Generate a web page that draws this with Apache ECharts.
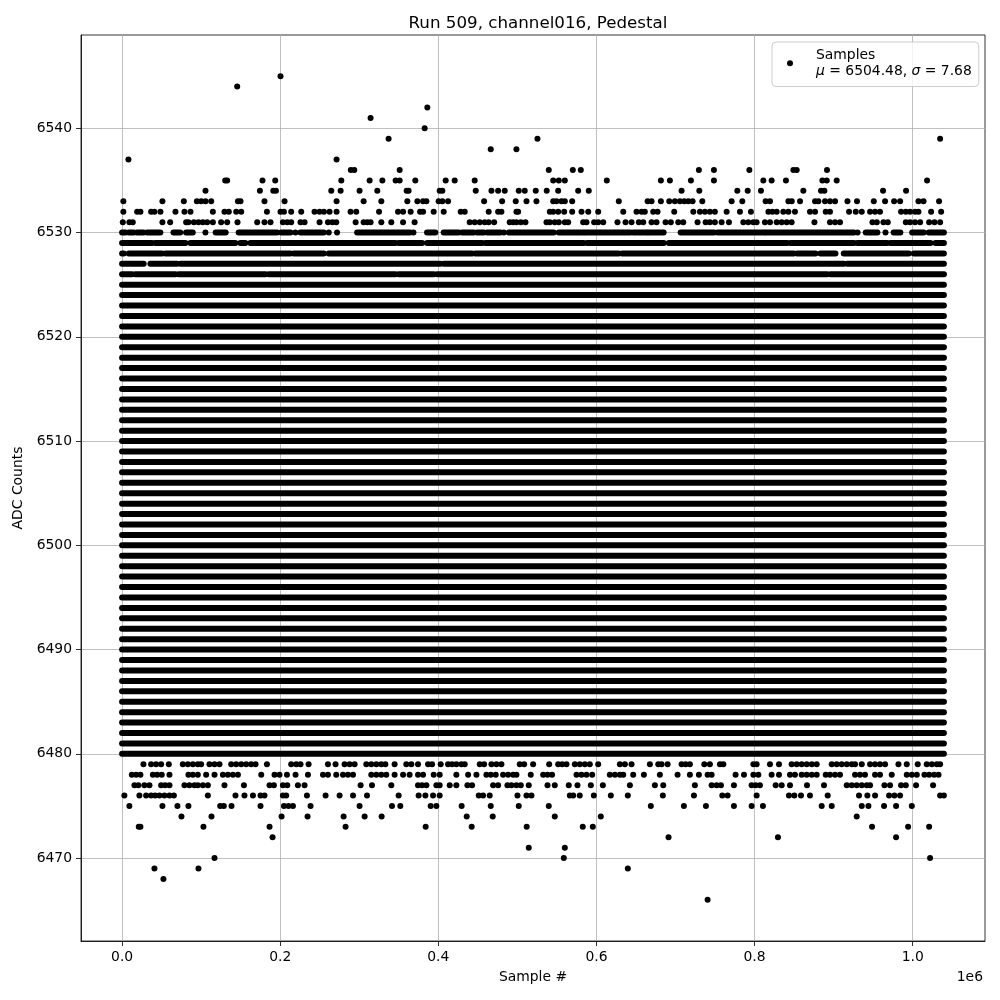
<!DOCTYPE html>
<html><head><meta charset="utf-8">
<script src="https://cdn.jsdelivr.net/npm/echarts@6/dist/echarts.min.js"></script>
<style>html,body{margin:0;padding:0;background:#fff}#c{width:1000px;height:1000px}</style>
</head><body><div id="c"></div>
<script>
// ---- axis ticks ----
const xTicks = [0, 200000, 400000, 600000, 800000, 1000000];
const yTicks = [6470, 6480, 6490, 6500, 6510, 6520, 6530, 6540];
const xDataMax = 1039500;

// ---- levels that are filled across the full sample range ----
const solidLevels = [6480,6481,6482,6483,6484,6485,6486,6487,6488,6489,6490,6491,6492,6493,6494,6495,6496,6497,6498,6499,6500,6501,6502,6503,6504,6505,6506,6507,6508,6509,6510,6511,6512,6513,6514,6515,6516,6517,6518,6519,6520,6521,6522,6523,6524,6525];

// ---- near-dense levels as runs of samples [start, end] ----
const runs6526 = [[0,12600],[16800,67400],[71600,181300],[185500,345700],[349900,394200],[398500,891800],[896000,1039500]];
const runs6527 = [[0,27300],[35800,69600],[73800,402600],[406800,912800],[917100,1039500]];
const runs6528 = [[0,2000],[8400,50600],[54800,212900],[217100,255100],[261400,442800],[446900,628200],[632500,849600],[853900,877000],[883300,902300],[912800,995000],[1001400,1039500]];
const runs6529 = [[0,38000],[42100,80100],[86400,143300],[149600,155900],[162300,345700],[349900,379500],[385800,455400],[459600,583900],[588200,685100],[691500,841200],[845400,925500],[929800,967700],[971900,1022500],[1028800,1039500]];
const runs6530 = [[0,4200],[8400,14700],[18800,27200],[31600,48400],[65000,73500],[80900,89400],[105400,105400],[118400,131000],[147500,196000],[201100,213000],[219300,219300],[225600,255100],[261400,261400],[271900,271900],[297300,364300],[368500,368500],[385700,396200],[406800,425800],[430100,444800],[449000,457500],[461700,478600],[482800,482800],[489100,546000],[552300,583900],[586000,643000],[646300,664000],[666000,685000],[706500,748700],[753000,812000],[814000,875100],[877600,925800],[930300,930300],[940600,955400],[965600,965600],[975900,984400],[999300,1014000],[1020300,1039500]];

// ---- sparse levels: sample positions of individual points ----
const p6545 = [200400];
const p6544 = [145600];
const p6542 = [386100];
const p6541 = [314300];
const p6540 = [382700];
const p6539 = [337100, 525400, 1034700];
const p6538 = [466300, 498800];
const p6537 = [8000, 271300];
const p6536 = [289300, 293700, 351100, 539700, 570100, 580200, 729600, 748600, 793400, 849100, 853300, 891600];
const p6535 = [130400, 132900, 177600, 193700, 277300, 313100, 329200, 346000, 351100, 370900, 409300, 420700, 446000, 545300, 552400, 560000, 613100, 681500, 692900, 719500, 748600, 811100, 821600, 839700, 885800, 891300, 903900, 1018200];
const p6534 = [105500, 174300, 191200, 194600, 264600, 276400, 300400, 322800, 359900, 362400, 401700, 405100, 447300, 467200, 475600, 484000, 501700, 509300, 523200, 537100, 551600, 576900, 590300, 707700, 730100, 778200, 791300, 808100, 861700, 884000, 888300, 962500, 991600];
const p6533 = [1600, 51000, 78100, 94600, 100000, 105500, 112700, 146500, 149800, 180100, 205500, 271300, 305500, 327900, 360800, 373500, 380700, 384900, 400400, 405100, 412300, 457900, 480700, 497900, 511500, 524100, 545300, 549400, 555700, 560000, 569300, 628300, 664700, 669700, 681500, 692100, 699200, 705500, 711100, 716200, 721600, 733900, 771000, 784500, 814000, 819500, 842800, 847000, 857500, 876500, 880700, 889100, 895400, 901800, 917500, 929600, 950800, 965100, 976500, 984100, 1007300, 1013700, 1033400];
const p6532 = [1600, 19000, 23200, 36700, 40900, 48500, 67500, 78900, 86500, 114800, 129500, 135000, 144300, 150700, 183200, 200400, 204700, 213900, 226600, 243400, 249800, 255300, 262400, 271300, 289000, 296200, 325000, 349000, 355400, 365000, 376900, 380700, 394100, 406800, 428300, 433400, 463700, 475600, 479800, 498800, 500900, 541000, 545300, 551600, 559200, 569300, 581100, 589600, 602200, 633900, 650700, 657100, 661200, 671800, 677300, 698400, 722500, 730900, 737200, 743500, 749800, 764700, 781500, 795400, 817500, 822500, 828000, 836400, 842800, 851100, 870100, 876500, 890000, 895400, 919500, 928000, 935600, 946100, 952400, 958700, 985300, 991300, 996700, 1003000, 1007300, 1023300, 1036000];
const p6531 = [900, 9200, 13500, 51000, 60800, 81000, 83900, 90800, 96600, 102200, 107600, 114800, 125300, 132900, 146000, 170900, 180100, 187700, 203400, 208900, 213900, 225700, 230800, 249800, 260400, 265900, 270900, 295400, 305500, 310200, 314300, 327900, 340500, 355400, 370000, 439700, 446000, 452400, 458700, 463700, 470600, 490300, 494600, 498800, 504300, 510200, 536800, 541000, 547300, 552400, 560000, 564200, 583200, 587400, 597100, 602200, 608600, 626600, 636800, 644400, 653600, 659200, 669700, 676000, 687400, 694100, 703500, 709800, 727900, 738100, 743500, 749800, 758300, 767600, 785800, 792100, 798500, 802600, 813100, 819500, 828000, 834300, 840600, 846900, 875700, 895400, 901800, 908100, 949100, 954600, 963000, 968500, 991300, 996700, 1003000, 1009400, 1020800, 1027600, 1034700];

const p6479 = [27000, 36700, 43000, 49400, 59100, 76800, 83200, 89500, 95800, 100000, 110500, 116900, 123200, 138000, 144300, 150700, 157000, 163300, 168800, 183200, 213900, 220300, 225700, 235900, 260400, 270000, 281400, 287800, 294100, 308900, 315200, 321600, 327900, 333000, 344700, 359500, 365900, 374300, 387000, 392100, 403000, 412300, 417400, 422800, 429200, 433400, 452400, 457900, 467200, 473500, 479800, 503000, 508600, 519900, 540200, 551600, 556700, 562100, 572600, 578900, 585300, 591600, 602200, 629600, 636000, 644400, 667600, 678200, 682400, 690000, 707700, 712800, 718200, 736400, 743500, 756200, 760500, 798500, 802600, 819500, 830900, 846900, 853300, 859600, 865900, 872300, 878600, 897600, 903900, 910200, 916600, 922900, 927100, 935600, 946100, 952400, 958700, 965100, 982000, 992500, 1006400, 1017800, 1024200, 1030500, 1034700];
const p6478 = [12300, 17700, 23200, 38900, 44300, 50200, 59900, 83900, 89500, 95800, 106300, 116900, 127500, 133800, 140200, 146500, 176000, 192800, 199100, 208500, 219400, 235100, 254100, 260400, 270900, 279400, 285700, 292100, 315200, 321600, 327900, 334200, 344700, 355400, 363700, 374300, 380700, 394100, 401700, 422800, 437700, 448200, 460800, 466300, 472600, 481900, 488300, 494600, 498800, 516900, 532600, 538100, 543900, 574800, 581100, 587400, 594600, 616900, 623300, 629600, 633900, 646500, 660000, 680200, 702600, 718200, 729600, 740600, 745700, 776000, 786600, 798500, 804800, 821600, 830900, 844800, 851100, 859600, 865900, 872300, 878600, 890000, 895400, 901800, 908100, 927100, 933400, 939700, 952400, 958700, 973500, 992500, 998900, 1005200, 1014900, 1020800, 1027100, 1032700];
const p6477 = [15600, 20600, 28200, 34600, 49400, 54400, 59900, 78900, 85200, 91500, 95800, 102200, 108500, 129500, 154100, 186500, 192000, 203400, 208900, 222400, 230800, 301700, 316100, 340500, 374300, 379400, 384900, 397500, 401700, 414400, 422800, 436800, 442700, 469300, 475600, 487400, 492500, 498800, 504300, 514400, 538100, 547300, 565000, 576000, 592900, 608100, 642300, 673900, 684500, 724500, 745700, 752000, 757500, 773900, 796300, 801300, 806800, 826700, 834300, 844800, 866300, 887800, 916600, 922900, 929200, 935600, 941900, 946100, 964300, 971400, 985300, 991300, 1004300, 1025800];
const p6476 = [2900, 21900, 30400, 36700, 41800, 47200, 53600, 59900, 65500, 108500, 143400, 154800, 165500, 175100, 180100, 203400, 207600, 233800, 257400, 275100, 292100, 309800, 349800, 375100, 383600, 393300, 401700, 451100, 456600, 465000, 500100, 511500, 517800, 566300, 570600, 578900, 596700, 618200, 639700, 684000, 723300, 759200, 765900, 802600, 843500, 850300, 858700, 870100, 892500, 932100, 942700, 952400, 970100, 976900, 984000, 1034700, 1039500];
const p6475 = [9200, 51000, 70000, 83900, 124100, 128700, 138400, 175100, 204700, 210500, 216100, 238400, 300400, 341400, 351900, 390300, 397500, 429500, 466300, 501700, 539700, 668800, 710600, 738500, 773900, 796300, 810600, 884900, 897600, 935600, 944000, 963800, 979000, 998900];
const p6474 = [75100, 113100, 201700, 234600, 280200, 306800, 328300, 435900, 468800, 547300, 605500, 929200];
const p6473 = [21100, 23200, 102900, 186500, 282700, 384000, 442200, 511800, 582700, 595400, 948600, 994200, 1020800];
const p6472 = [190300, 691200, 829600, 979000];
const p6471 = [514400, 560000];
const p6470 = [116900, 558700, 1022000];
const p6469 = [40900, 96600, 639700];
const p6468 = [52300];
const p6466 = [740600];

const sparseRows = [
  [6545,p6545],[6544,p6544],[6542,p6542],[6541,p6541],[6540,p6540],[6539,p6539],[6538,p6538],[6537,p6537],
  [6536,p6536],[6535,p6535],[6534,p6534],[6533,p6533],[6532,p6532],[6531,p6531],
  [6479,p6479],[6478,p6478],[6477,p6477],[6476,p6476],[6475,p6475],[6474,p6474],[6473,p6473],
  [6472,p6472],[6471,p6471],[6470,p6470],[6469,p6469],[6468,p6468],[6466,p6466]
];
const runRows = [[6526,runs6526],[6527,runs6527],[6528,runs6528],[6529,runs6529],[6530,runs6530]];

// ---- build series data ----
const scatterData = [];
sparseRows.forEach(([lvl, xs]) => xs.forEach(x => scatterData.push([x, lvl])));
const bandData = [];
solidLevels.forEach(lvl => bandData.push([0, xDataMax, lvl]));
runRows.forEach(([lvl, rs]) => rs.forEach(r => bandData.push([r[0], r[1], lvl])));

const FONT = 'DejaVu Sans';
const FS = 13.9;

const chart = echarts.init(document.getElementById('c'), null, {renderer: 'canvas'});
chart.setOption({
  animation: false,
  backgroundColor: '#fff',
  title: {
    text: 'Run 509, channel016, Pedestal',
    left: 533, top: 10, textAlign: 'center',
    textStyle: {fontFamily: FONT, fontSize: 16.7, fontWeight: 'normal', color: '#000'}
  },
  grid: {left: 81, right: 15, top: 35, bottom: 59, show: true, borderColor: '#000', borderWidth: 0.8, backgroundColor: 'transparent'},
  legend: {
    data: ['Samples'],
    left: 772, top: 42,
    padding: [6, 7, 8, 15],
    itemWidth: 6, itemHeight: 6, icon: 'circle',
    backgroundColor: 'rgba(255,255,255,0.8)',
    borderColor: '#cccccc', borderWidth: 1, borderRadius: 4,
    formatter: () => '{s| }{n|Samples}\n{s| }{i|μ}{n| = 6504.48, }{i|σ}{n| = 7.68}',
    textStyle: {
      rich: {
        s: {width: 18, fontSize: FS, lineHeight: 16.5},
        n: {fontFamily: FONT, fontSize: FS, color: '#000', lineHeight: 16.5},
        i: {fontFamily: FONT, fontSize: FS, fontStyle: 'italic', color: '#000', lineHeight: 16.5}
      }
    }
  },
  xAxis: {
    type: 'value', min: -51975, max: 1091475,
    name: 'Sample #', nameLocation: 'middle', nameGap: 29,
    nameTextStyle: {fontFamily: FONT, fontSize: FS, color: '#000'},
    axisLine: {show: true, onZero: false, lineStyle: {color: '#000', width: 0.8}},
    axisTick: {show: true, inside: false, length: 5, customValues: xTicks, lineStyle: {color: '#000', width: 0.8}},
    axisLabel: {customValues: xTicks, formatter: v => (v / 1e6).toFixed(1), fontFamily: FONT, fontSize: FS, color: '#000', margin: 9},
    splitLine: {show: true, lineStyle: {color: '#b0b0b0', width: 0.8}}
  },
  yAxis: {
    type: 'value', min: 6462.05, max: 6548.95,
    name: 'ADC Counts', nameLocation: 'middle', nameGap: 43, nameRotate: 90,
    nameTextStyle: {fontFamily: FONT, fontSize: FS, color: '#000'},
    axisLine: {show: true, onZero: false, lineStyle: {color: '#000', width: 0.8}},
    axisTick: {show: true, inside: false, length: 5, customValues: yTicks, lineStyle: {color: '#000', width: 0.8}},
    axisLabel: {customValues: yTicks, formatter: v => String(v), fontFamily: FONT, fontSize: FS, color: '#000', margin: 9},
    splitLine: {show: true, lineStyle: {color: '#b0b0b0', width: 0.8}}
  },
  graphic: [{
    type: 'text', right: 17, top: 970,
    style: {text: '1e6', font: FS + 'px "' + FONT + '"', fill: '#000'}
  }],
  series: [
    {
      name: 'band', type: 'custom', data: bandData,
      encode: {x: [0, 1], y: 2},
      silent: true, z: 2,
      renderItem: (params, api) => {
        const a = api.coord([api.value(0), api.value(2)]);
        const b = api.coord([api.value(1), api.value(2)]);
        return {type: 'rect', shape: {x: a[0] - 3, y: a[1] - 3, width: b[0] - a[0] + 6, height: 6, r: 3}, style: {fill: '#000'}};
      }
    },
    {
      name: 'Samples', type: 'scatter', data: scatterData,
      symbol: 'circle', symbolSize: 6, z: 3,
      itemStyle: {color: '#000', opacity: 1},
      emphasis: {disabled: true}
    }
  ]
});
</script>
</body></html>
